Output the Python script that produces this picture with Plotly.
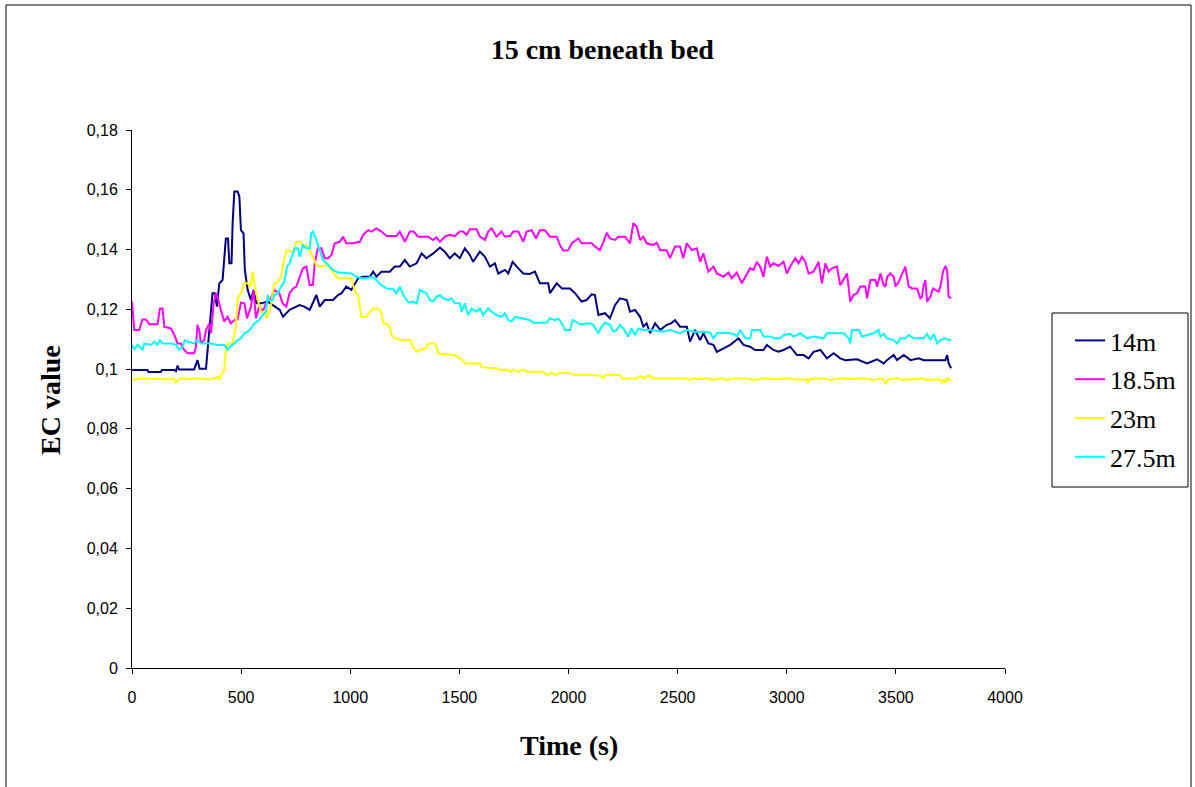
import plotly.graph_objects as go

# ---- data (time in s, EC value) ----
t_14 = [0,71,75,132,137,195,201,209,215,285,300,310,339,354,369,380,389,400,415,430,440,446,456,461,469,484,492,499,511,517,530,545,557,570,591,622,652,677,692,722,768,790,814,845,860,883,921,944,960,982,1005,1021,1036,1059,1090,1105,1120,1143,1181,1204,1227,1250,1273,1304,1327,1349,1365,1380,1411,1433,1456,1479,1502,1525,1548,1563,1594,1617,1640,1663,1678,1709,1724,1744,1770,1793,1820,1846,1869,1907,1915,1946,1970,2007,2030,2060,2083,2106,2121,2137,2167,2190,2213,2236,2267,2282,2305,2328,2343,2358,2374,2397,2420,2450,2470,2488,2511,2542,2557,2580,2603,2618,2641,2664,2680,2710,2741,2779,2802,2832,2855,2893,2909,2939,2962,2985,3016,3047,3077,3100,3123,3154,3184,3215,3245,3268,3322,3368,3414,3444,3459,3490,3505,3536,3567,3605,3627,3727,3735,3742,3753]
v_14 = [0.0997,0.0997,0.099,0.099,0.0997,0.0997,0.0993,0.1012,0.0999,0.0999,0.103,0.1001,0.1001,0.113,0.1254,0.1254,0.1209,0.1287,0.1298,0.1437,0.1437,0.1354,0.1354,0.1488,0.1594,0.1594,0.1577,0.1465,0.1454,0.1332,0.1265,0.1231,0.1265,0.122,0.122,0.1226,0.1209,0.1198,0.1175,0.1198,0.1214,0.1209,0.1198,0.1248,0.1209,0.1231,0.1231,0.1248,0.1254,0.1276,0.1265,0.1287,0.1304,0.1309,0.1309,0.1326,0.1309,0.1326,0.1326,0.1343,0.1343,0.1365,0.1343,0.1354,0.1387,0.1371,0.1378,0.1387,0.1407,0.1393,0.1371,0.1387,0.1371,0.1404,0.1382,0.1359,0.1393,0.1376,0.1343,0.1354,0.132,0.1332,0.132,0.1359,0.1337,0.132,0.1318,0.1326,0.1287,0.1287,0.1254,0.1287,0.127,0.127,0.1254,0.1226,0.1231,0.125,0.1248,0.1181,0.1187,0.117,0.1214,0.1237,0.1231,0.1192,0.1198,0.1175,0.1142,0.1153,0.112,0.1153,0.1131,0.1148,0.1153,0.1164,0.1142,0.1142,0.1092,0.1131,0.1097,0.112,0.1086,0.1081,0.1058,0.107,0.1081,0.1103,0.1081,0.1075,0.1064,0.1064,0.1081,0.1064,0.1058,0.1064,0.1075,0.1047,0.1047,0.1036,0.1058,0.1064,0.1036,0.1053,0.1036,0.103,0.1033,0.1019,0.1033,0.1019,0.103,0.1047,0.103,0.1047,0.103,0.1036,0.103,0.103,0.1047,0.1019,0.1003]

t_185 = [0,10,33,48,64,79,117,128,140,148,178,194,209,224,239,255,285,293,300,308,316,331,339,354,362,374,385,392,407,423,438,453,469,484,499,515,527,545,557,568,583,599,614,637,652,675,690,707,722,738,753,768,783,799,814,829,837,852,868,883,898,914,929,952,967,982,1013,1044,1059,1082,1097,1120,1143,1166,1212,1227,1250,1273,1290,1311,1357,1380,1395,1411,1433,1456,1479,1502,1517,1533,1548,1579,1594,1617,1632,1648,1670,1693,1709,1732,1747,1770,1793,1808,1831,1851,1869,1892,1915,1946,1961,1976,1999,2015,2045,2060,2106,2121,2144,2160,2175,2190,2213,2228,2259,2282,2297,2313,2328,2343,2358,2389,2404,2420,2450,2465,2488,2511,2526,2542,2565,2588,2603,2618,2641,2664,2680,2710,2733,2748,2771,2794,2817,2832,2848,2863,2878,2893,2909,2924,2939,2962,2985,3001,3016,3039,3054,3070,3085,3100,3123,3146,3161,3177,3192,3207,3230,3245,3268,3276,3291,3306,3322,3337,3360,3368,3383,3406,3414,3429,3444,3452,3460,3475,3490,3498,3513,3528,3543,3559,3574,3597,3612,3620,3627,3635,3643,3658,3670,3681,3696,3704,3716,3727,3735,3742,3753]
v_185 = [0.1226,0.1131,0.1131,0.1166,0.1166,0.115,0.115,0.1203,0.1203,0.1142,0.1136,0.1114,0.1086,0.1086,0.1064,0.1053,0.1053,0.1075,0.1148,0.1131,0.1086,0.1097,0.1131,0.1153,0.112,0.122,0.1254,0.1242,0.1198,0.1159,0.1175,0.1153,0.1164,0.1166,0.1222,0.122,0.117,0.1209,0.1265,0.117,0.1209,0.1192,0.122,0.1237,0.1265,0.1254,0.122,0.1209,0.1254,0.127,0.1276,0.1309,0.1337,0.1343,0.1281,0.1281,0.1354,0.1404,0.1404,0.1371,0.1371,0.1382,0.1421,0.1426,0.1443,0.1421,0.1421,0.1426,0.1449,0.1465,0.146,0.1471,0.146,0.1445,0.1445,0.146,0.1426,0.146,0.146,0.1443,0.1443,0.1432,0.1441,0.1426,0.1443,0.1449,0.1445,0.146,0.146,0.1449,0.1468,0.1468,0.1443,0.1432,0.146,0.1471,0.1443,0.146,0.1443,0.1445,0.146,0.146,0.1426,0.146,0.1465,0.1437,0.1465,0.1465,0.1443,0.1443,0.1415,0.1396,0.1398,0.1421,0.1437,0.1421,0.1421,0.141,0.1398,0.1426,0.1456,0.1437,0.1432,0.1443,0.1443,0.1421,0.1488,0.1476,0.1432,0.1443,0.1421,0.1415,0.1423,0.1398,0.1398,0.1371,0.141,0.141,0.1371,0.1421,0.1398,0.1404,0.1359,0.1387,0.1326,0.1343,0.132,0.1309,0.1323,0.1304,0.1323,0.1287,0.132,0.1337,0.1332,0.1359,0.1343,0.1309,0.1376,0.1343,0.1354,0.1345,0.1359,0.132,0.1343,0.1371,0.1354,0.1376,0.1359,0.132,0.1326,0.1359,0.1287,0.1354,0.1326,0.1337,0.1343,0.1281,0.1309,0.132,0.1226,0.1248,0.1254,0.1276,0.1276,0.1237,0.1298,0.1298,0.1276,0.132,0.1281,0.1276,0.1309,0.132,0.1309,0.1276,0.1292,0.1315,0.1343,0.1276,0.127,0.127,0.1237,0.1242,0.1281,0.1298,0.1226,0.1242,0.127,0.1265,0.1259,0.1276,0.1326,0.1345,0.1332,0.1242,0.1237]

t_23 = [0,56,140,194,200,224,270,300,346,377,392,400,407,423,430,438,461,476,484,499,515,530,542,553,563,576,591,606,618,637,652,668,683,698,710,738,753,776,783,799,814,829,845,860,898,914,929,944,1005,1021,1036,1051,1074,1090,1105,1128,1143,1151,1166,1181,1189,1204,1235,1273,1288,1304,1319,1349,1357,1388,1395,1403,1479,1502,1517,1525,1594,1602,1670,1686,1716,1732,1747,1770,1793,1808,1884,1900,1923,1938,1961,2007,2022,2099,2145,2160,2167,2236,2244,2313,2328,2343,2358,2374,2389,2542,2549,2572,2595,2633,2664,2695,2725,2756,2810,2850,2900,2950,3000,3050,3093,3096,3105,3150,3200,3250,3300,3350,3400,3440,3452,3465,3505,3530,3600,3628,3640,3700,3710,3720,3727,3735,3745,3753]
v_23 = [0.0964,0.0969,0.0966,0.0966,0.0956,0.0969,0.0966,0.0969,0.0966,0.0969,0.0975,0.0964,0.098,0.0997,0.1064,0.1086,0.1086,0.1142,0.1237,0.1254,0.1287,0.1287,0.1276,0.1326,0.1276,0.1231,0.1192,0.1192,0.117,0.1214,0.1287,0.1292,0.1309,0.1371,0.1398,0.1393,0.1426,0.1426,0.141,0.1415,0.1398,0.1376,0.1348,0.1343,0.1348,0.1332,0.1315,0.1304,0.1304,0.1259,0.1248,0.1175,0.1175,0.1192,0.1203,0.1203,0.1187,0.1153,0.1153,0.1142,0.1114,0.1103,0.1097,0.1097,0.1075,0.1058,0.1064,0.107,0.1086,0.1086,0.1075,0.1051,0.1047,0.1036,0.103,0.1019,0.1019,0.1006,0.1003,0.0997,0.0999,0.0991,0.0999,0.0991,0.0999,0.0991,0.0991,0.098,0.0988,0.098,0.0988,0.0986,0.098,0.098,0.0978,0.0969,0.098,0.098,0.0969,0.0969,0.0977,0.0969,0.0977,0.0977,0.0969,0.0969,0.0964,0.0969,0.0966,0.0969,0.0964,0.0969,0.0964,0.0969,0.0969,0.0964,0.0969,0.0966,0.0969,0.0964,0.0966,0.0953,0.0966,0.0969,0.0964,0.0969,0.0966,0.0969,0.0964,0.0969,0.095,0.0966,0.0969,0.0964,0.0966,0.0969,0.0964,0.0966,0.0955,0.0966,0.0955,0.0969,0.0962,0.0966]

t_275 = [0,10,25,48,56,87,102,117,128,140,178,201,216,232,242,255,285,300,316,362,392,423,438,453,469,484,499,515,530,545,560,583,599,614,622,629,645,652,668,683,698,710,722,745,760,768,783,799,814,821,829,845,857,868,875,891,906,921,944,982,1005,1028,1051,1074,1097,1112,1128,1143,1166,1197,1212,1227,1243,1266,1288,1304,1319,1334,1349,1365,1380,1395,1411,1426,1449,1464,1479,1502,1510,1525,1540,1556,1579,1594,1609,1632,1648,1670,1693,1709,1724,1739,1755,1785,1823,1839,1900,1915,1938,1953,1969,1984,2007,2019,2038,2053,2099,2114,2137,2152,2167,2190,2205,2221,2236,2251,2274,2289,2305,2320,2343,2374,2435,2465,2511,2542,2572,2618,2649,2664,2680,2725,2756,2771,2787,2810,2833,2840,2879,2894,2924,2947,2970,2986,3016,3032,3062,3093,3123,3169,3184,3261,3284,3291,3299,3330,3345,3368,3398,3421,3429,3444,3460,3490,3505,3521,3544,3559,3582,3628,3643,3658,3674,3689,3704,3727,3742,3753]
v_275 = [0.1081,0.1065,0.1081,0.1065,0.1086,0.1081,0.1092,0.1081,0.1097,0.1086,0.1086,0.1081,0.1065,0.1075,0.1097,0.1092,0.1086,0.1097,0.1086,0.1086,0.1081,0.1081,0.1065,0.1077,0.1086,0.1097,0.1103,0.112,0.1125,0.1136,0.1153,0.1164,0.1181,0.1192,0.1248,0.1231,0.1231,0.1248,0.1254,0.1276,0.1292,0.1343,0.1354,0.1404,0.1404,0.1376,0.1415,0.1404,0.1404,0.1454,0.146,0.1432,0.1404,0.1376,0.1365,0.1354,0.1343,0.1332,0.1323,0.132,0.132,0.1309,0.1304,0.1304,0.1309,0.1304,0.1292,0.1281,0.127,0.1267,0.1254,0.1276,0.1248,0.1223,0.1226,0.122,0.1265,0.1259,0.1254,0.1231,0.1226,0.1242,0.1248,0.1237,0.1231,0.1237,0.122,0.122,0.1192,0.122,0.1181,0.1203,0.1192,0.1203,0.1181,0.1203,0.1192,0.1181,0.1175,0.1187,0.1164,0.1159,0.1175,0.117,0.1164,0.1155,0.1155,0.117,0.1164,0.117,0.1153,0.1131,0.1131,0.1164,0.1155,0.115,0.1153,0.1148,0.112,0.1142,0.1155,0.1148,0.1125,0.1131,0.1148,0.1136,0.1109,0.1136,0.1114,0.1136,0.1131,0.1131,0.1125,0.1131,0.112,0.1131,0.1125,0.1125,0.1122,0.1103,0.112,0.1122,0.1118,0.1109,0.1131,0.1103,0.1103,0.1131,0.1131,0.1109,0.1109,0.1103,0.1103,0.1114,0.1118,0.1109,0.112,0.1103,0.1109,0.1103,0.112,0.112,0.1103,0.1086,0.1131,0.1131,0.1109,0.1114,0.112,0.1131,0.1109,0.1118,0.1103,0.1097,0.1086,0.1103,0.1103,0.1114,0.1103,0.1103,0.1118,0.1097,0.1118,0.1086,0.1097,0.1103,0.1097,0.1097]

series_names = ["14m", "18.5m", "23m", "27.5m"]
series_colors = ["#000080", "#FF00FF", "#FFFF00", "#00FFFF"]
series_t = [t_14, t_185, t_23, t_275]
series_v = [v_14, v_185, v_23, v_275]

x_ticks = [0, 500, 1000, 1500, 2000, 2500, 3000, 3500, 4000]
y_ticks = [0, 0.02, 0.04, 0.06, 0.08, 0.1, 0.12, 0.14, 0.16, 0.18]
y_ticktext = ["0", "0,02", "0,04", "0,06", "0,08", "0,1", "0,12", "0,14", "0,16", "0,18"]

title_text = "15 cm beneath bed"
x_title = "Time (s)"
y_title = "EC value"

# ---- figure ----
W, H = 1195, 787
L, R, T, B = 132, 190, 130, 119
pw, ph = W - L - R, H - T - B

def px_x(p):
    return (p - L) / pw

def px_y(p):
    return (H - B - p) / ph

fig = go.Figure()
for i, (name, col, tt, vv) in enumerate(zip(series_names, series_colors, series_t, series_v)):
    fig.add_trace(go.Scatter(x=tt, y=vv, mode="lines", name=name,
                             line=dict(color=col, width=2), legendgroup=f"g{i}"))

serif = "Liberation Serif, Times New Roman, serif"
sans = "Liberation Sans, Arial, sans-serif"

fig.update_layout(
    width=W, height=H,
    margin=dict(l=L, r=R, t=T, b=B),
    paper_bgcolor="white", plot_bgcolor="white",
    title=dict(text="<b>" + title_text + "</b>", x=0.504, xref="container", xanchor="center",
               y=1 - 49 / H, yref="container", yanchor="middle",
               font=dict(family=serif, size=28, color="black")),
    showlegend=True,
    legend=dict(x=px_x(1070), y=px_y(317), xanchor="left", yanchor="top",
                font=dict(family=serif, size=26, color="black"),
                bgcolor="rgba(0,0,0,0)", borderwidth=0, tracegroupgap=2),
    xaxis=dict(range=[0, 4000], tickvals=x_ticks, ticks="outside", ticklen=5,
               tickcolor="black", showline=True, linecolor="black", linewidth=1,
               showgrid=False, zeroline=False, ticklabelstandoff=10,
               tickfont=dict(family=sans, size=16, color="black")),
    yaxis=dict(range=[0, 0.18], tickvals=y_ticks, ticktext=y_ticktext, ticks="outside",
               ticklen=5, tickcolor="black", showline=True, linecolor="black", linewidth=1,
               showgrid=False, zeroline=False, ticklabelstandoff=5,
               tickfont=dict(family=sans, size=16, color="black")),
    annotations=[
        dict(text="<b>" + x_title + "</b>", x=px_x(569), y=px_y(745), xref="paper", yref="paper",
             showarrow=False, xanchor="center", yanchor="middle",
             font=dict(family=serif, size=28, color="black")),
        dict(text="<b>" + y_title + "</b>", x=px_x(50), y=px_y(400), xref="paper", yref="paper",
             showarrow=False, xanchor="center", yanchor="middle", textangle=-90,
             font=dict(family=serif, size=28, color="black")),
    ],
    shapes=[
        dict(type="rect", xref="paper", yref="paper", x0=px_x(1052), x1=px_x(1188),
             y0=px_y(487), y1=px_y(313), line=dict(color="black", width=1)),
        dict(type="rect", xref="paper", yref="paper", x0=px_x(6), x1=px_x(1191),
             y0=px_y(792), y1=px_y(5), line=dict(color="black", width=1)),
    ],
)

fig.write_html("out.html")
